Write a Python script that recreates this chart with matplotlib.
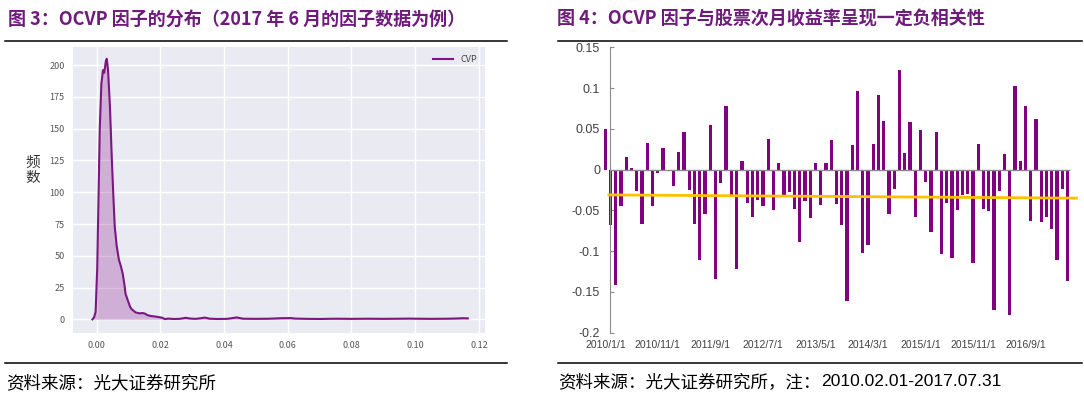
import numpy as np
import matplotlib
matplotlib.use('Agg')
import matplotlib.pyplot as plt
from matplotlib.lines import Line2D

plt.rcParams['font.family'] = ['Noto Sans CJK SC', 'DejaVu Sans']

# ---------------- dados ----------------
# Figura 3: densidade do fator OCVP (jun/2017)
cvp_x = [-0.0013, -0.0008, -0.0003, 0.0002, 0.0006, 0.0010, 0.0015, 0.0020, 0.0024,
         0.0029, 0.0032, 0.0036, 0.0042, 0.0048, 0.0053, 0.0057, 0.0063, 0.0070, 0.0076,
         0.0082, 0.0087, 0.0091, 0.0098, 0.0105, 0.0110, 0.0115, 0.0122, 0.0130, 0.0136,
         0.0144, 0.0152, 0.0158, 0.0167, 0.0175, 0.0185, 0.0199, 0.0207, 0.0214, 0.0225,
         0.0240, 0.0260, 0.0280, 0.0295, 0.0310, 0.0325, 0.0340, 0.0355, 0.0380, 0.0410,
         0.0440, 0.0460, 0.0500, 0.0540, 0.0580, 0.0610, 0.0625, 0.0660, 0.0700, 0.0750,
         0.0800, 0.0850, 0.0900, 0.0950, 0.0980, 0.1010, 0.1050, 0.1100, 0.1130, 0.1150,
         0.1165]
cvp_y = [0, 1.5, 6, 40, 95, 150, 185, 196, 194, 203, 205, 196, 167, 125, 95, 73, 58, 47, 42,
         36, 28, 20, 15, 10, 8, 7, 5.5, 5, 4.7, 5, 4.5, 3.5, 2.8, 2.5, 2.2, 1.6, 1.2, 0.2, 0.6,
         0.3, 0.4, 1.2, 0.6, 0.4, 0.8, 1.4, 0.5, 0.3, 0.4, 1.5, 0.5, 0.4, 0.5, 0.9, 1.0, 0.6,
         0.4, 0.3, 0.5, 0.4, 0.5, 0.4, 0.5, 0.6, 0.5, 0.4, 0.5, 0.7, 0.9, 0.8]

# Figura 4: IC mensal 2010/1 - 2017/5
ic_mensal = [0.050, -0.068, -0.142, -0.045, 0.016, 0.002, -0.026, -0.067, 0.033, -0.045,
             -0.004, 0.027, -0.001, -0.020, 0.021, 0.046, -0.025, -0.067, -0.111, -0.054,
             0.055, -0.134, -0.016, 0.078, -0.031, -0.122, 0.010, -0.041, -0.058, -0.037,
             -0.045, 0.038, -0.049, 0.008, -0.031, -0.028, -0.048, -0.089, -0.038, -0.059,
             0.008, -0.044, 0.008, 0.036, -0.042, -0.068, -0.161, 0.030, 0.096, -0.102,
             -0.092, 0.031, 0.092, 0.060, -0.055, -0.024, 0.122, 0.020, 0.059, -0.058,
             0.049, -0.015, -0.077, 0.046, -0.103, -0.041, -0.108, -0.050, -0.031, -0.030,
             -0.115, 0.031, -0.048, -0.051, -0.172, -0.026, 0.019, -0.178, 0.103, 0.011,
             0.078, -0.063, 0.062, -0.064, -0.058, -0.073, -0.111, -0.024, -0.137]
rotulos_x = ['2010/1/1', '2010/11/1', '2011/9/1', '2012/7/1', '2013/5/1',
             '2014/3/1', '2015/1/1', '2015/11/1', '2016/9/1']
linha_media = [-0.031, -0.035]   # linha laranja (início, fim)

roxo = '#800080'
titulo_cor = '#6E1B7B'

fig = plt.figure(figsize=(10.84, 3.97), dpi=100)

# ---------------- títulos e linhas ----------------
fig.text(8/1084, 1-19/397, '图 3：OCVP 因子的分布（2017 年 6 月的因子数据为例）',
         fontsize=13, fontweight='bold', color=titulo_cor, va='center', ha='left')
fig.text(557/1084, 1-19/397, '图 4：OCVP 因子与股票次月收益率呈现一定负相关性',
         fontsize=13, fontweight='bold', color=titulo_cor, va='center', ha='left')
for x0, x1 in [(5, 507), (558, 1082)]:
    for yy in [40.5, 362.5]:
        fig.add_artist(Line2D([x0/1084, x1/1084], [1-yy/397, 1-yy/397],
                              color='black', lw=1.1))
fig.text(6/1084, 1-383/397, '资料来源：光大证券研究所', fontsize=12.6,
         color='black', va='center', ha='left')
fig.text(558/1084, 1-383/397, '资料来源：光大证券研究所，注：', fontsize=12.6,
         color='black', va='center', ha='left')
fig.text(821/1084, 1-382/397, '2010.02.01-2017.07.31', fontsize=12.6,
         family='Liberation Sans', color='black', va='center', ha='left')

# ---------------- gráfico esquerdo ----------------
ax1 = fig.add_axes([73/1084, 64.3/397, 412/1084, 285.4/397])
ax1.set_facecolor('#EAEAF2')
for s in ax1.spines.values():
    s.set_visible(False)
ax1.grid(True, color='white', lw=1.0)
ax1.set_axisbelow(True)
ax1.plot(cvp_x, cvp_y, color='#7A1780', lw=1.5, label='CVP')
ax1.fill_between(cvp_x, cvp_y, color=roxo, alpha=0.25, lw=0)
ax1.set_xlim(-0.0074, 0.1219)
ax1.set_ylim(-10.5, 214)
ax1.set_xticks(np.arange(0, 0.121, 0.02))
ax1.set_xticklabels([f'{v:.2f}' for v in np.arange(0, 0.121, 0.02)])
ax1.set_yticks(range(0, 201, 25))
ax1.tick_params(length=0, labelsize=6.5, labelcolor='#555555', pad=6)
ax1.legend(loc='upper right', frameon=False, fontsize=6.5, handlelength=2.2,
           labelcolor='#444444')
fig.text(33/1084, 1-170/397, '频\n数', fontsize=10.5, color='#333333',
         ha='center', va='center', linespacing=1.1)

# ---------------- gráfico direito ----------------
n = len(ic_mensal)
pos = np.arange(n)
pos_eixo = 0.88
ax2 = fig.add_axes([602.7/1084, 64.3/397, 475.3/1084, 285.4/397])
ax2.bar(pos, ic_mensal, width=0.62, color=roxo, zorder=2)
ax2.hlines(0, pos_eixo, n - 0.45, color='#8C8C8C', lw=1.0, zorder=3)
ax2.plot([pos_eixo - 0.2, n + 0.7], linha_media, color='#FFC000', lw=2.0, zorder=4)
ax2.set_xlim(-0.5, 90.0)
ax2.set_ylim(-0.2, 0.15)
for s in ['top', 'right', 'bottom']:
    ax2.spines[s].set_visible(False)
ax2.spines['left'].set_position(('data', pos_eixo))
ax2.spines['left'].set_color('#8C8C8C')
ax2.set_yticks([0.15, 0.1, 0.05, 0, -0.05, -0.1, -0.15, -0.2])
ax2.set_yticklabels(['0.15', '0.1', '0.05', '0', '-0.05', '-0.1', '-0.15', '-0.2'],
                    family='Liberation Sans')
ax2.tick_params(axis='y', direction='in', length=3, color='#8C8C8C',
                labelsize=9, labelcolor='#404040', pad=7)
ax2.set_xticks(pos[::10][:len(rotulos_x)])
ax2.set_xticklabels(rotulos_x, family='Liberation Sans')
ax2.tick_params(axis='x', length=0, labelsize=7.5, labelcolor='#404040', pad=5)

fig.savefig('out.png', dpi=100)
